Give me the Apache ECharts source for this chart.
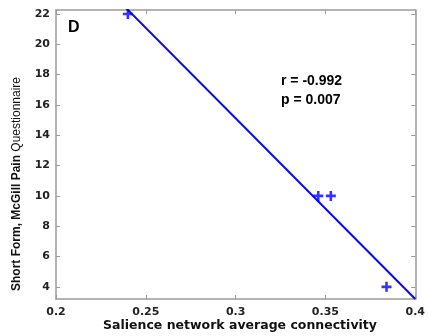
<!DOCTYPE html>
<html><head><meta charset="utf-8">
<script src="https://cdn.jsdelivr.net/npm/echarts@6/dist/echarts.min.js"></script>
<style>html,body{margin:0;padding:0;background:#fff}#c{width:428px;height:336px}</style>
</head><body><div id="c"></div>
<script>
// data
const connectivity = [0.240, 0.346, 0.353, 0.384];
const painScore = [22, 10, 10, 4];
const fitX = [0.2385, 0.4];
const fitY = [22.45, 3.2];
const xTicks = [0.2, 0.25, 0.3, 0.35, 0.4];
const yTicks = [4, 6, 8, 10, 12, 14, 16, 18, 20, 22];
const xTitle = 'Salience network average connectivity';
const yTitleBold = 'Short Form, McGill Pain';
const yTitleNormal = 'Questionnaire';
const panelLabel = 'D';
const statLines = ['r = -0.992', 'p = 0.007'];

const axisGrey = '#9a9a9a';
const blue = '#0a0ae6';
const chart = echarts.init(document.getElementById('c'));
const plus = 'path://M3.7,0H6.3V3.7H10V6.3H6.3V10H3.7V6.3H0V3.7H3.7Z';
const tickFont = {fontFamily: 'DejaVu Sans', fontWeight: 'bold', fontSize: 11, color: '#222'};
chart.setOption({
  animation: false,
  grid: {left: 56, right: 6, top: 10, bottom: 37},
  xAxis: [{
    type: 'value', min: 0.2, max: 0.4, position: 'bottom',
    axisLine: {lineStyle: {color: axisGrey, width: 1.5}},
    axisTick: {inside: true, length: 4, customValues: xTicks, lineStyle: {color: axisGrey}},
    axisLabel: Object.assign({customValues: xTicks, margin: 8, formatter: v => String(+v.toFixed(2))}, tickFont),
    splitLine: {show: false}
  }, {
    type: 'value', min: 0.2, max: 0.4, position: 'top',
    axisLine: {lineStyle: {color: axisGrey, width: 1.5}},
    axisTick: {inside: true, length: 4, customValues: xTicks, lineStyle: {color: axisGrey}},
    axisLabel: {show: false}, splitLine: {show: false}
  }],
  yAxis: [{
    type: 'value', min: 3.2, max: 22.26, position: 'left',
    axisLine: {show: true, lineStyle: {color: axisGrey, width: 1.5}},
    axisTick: {show: true, inside: true, length: 4, customValues: yTicks, lineStyle: {color: axisGrey}},
    axisLabel: Object.assign({customValues: yTicks, margin: 6}, tickFont),
    splitLine: {show: false}
  }, {
    type: 'value', min: 3.2, max: 22.26, position: 'right',
    axisLine: {show: true, lineStyle: {color: axisGrey, width: 1.5}},
    axisTick: {show: true, inside: true, length: 4, customValues: yTicks, lineStyle: {color: axisGrey}},
    axisLabel: {show: false}, splitLine: {show: false}
  }],
  series: [{
    type: 'line', clip: true, symbol: 'none',
    data: fitX.map((x, i) => [x, fitY[i]]),
    lineStyle: {color: blue, width: 2}, z: 2
  }, {
    type: 'scatter', symbol: plus, symbolSize: 10,
    itemStyle: {color: '#0000ff'},
    data: connectivity.map((x, i) => [x, painScore[i]]), z: 3
  }],
  graphic: [
    {type: 'text', left: 68, top: 20, style: {text: panelLabel, font: 'bold 16px "Liberation Sans"', fill: '#000'}},
    {type: 'text', left: 281, top: 72, style: {text: statLines.join('\n'), font: 'bold 14px "Liberation Sans"', lineHeight: 19, fill: '#000'}},
    {type: 'text', x: 240, y: 326, style: {text: xTitle, font: 'bold 12.5px "DejaVu Sans"', fill: '#111', align: 'center', verticalAlign: 'middle'}},
    {type: 'text', x: 17, y: 184, rotation: Math.PI / 2,
      style: {text: '{b|' + yTitleBold + '} {n|' + yTitleNormal + '}', align: 'center', verticalAlign: 'middle',
        rich: {b: {font: 'bold 12px "Liberation Sans"', fill: '#111'}, n: {font: '12px "Liberation Sans"', fill: '#111'}}}}
  ]
});
</script></body></html>
